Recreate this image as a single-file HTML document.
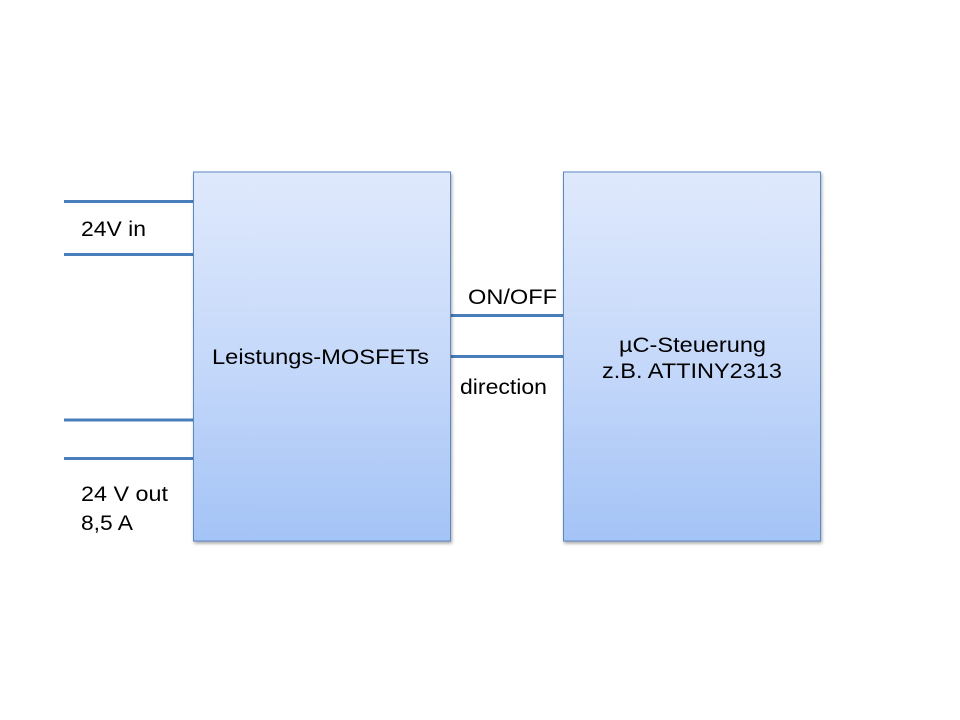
<!DOCTYPE html>
<html>
<head>
<meta charset="utf-8">
<style>
  html,body{margin:0;padding:0;background:#fff;}
  svg{display:block;}
  text{font-family:"Liberation Sans",Arial,sans-serif;font-size:21px;fill:#000;}
</style>
</head>
<body>
<svg width="960" height="720" viewBox="0 0 960 720" xmlns="http://www.w3.org/2000/svg">
  <defs>
    <linearGradient id="g" x1="0" y1="0" x2="0" y2="1">
      <stop offset="0" stop-color="#dfe9fc"/>
      <stop offset="0.5" stop-color="#c6d9fa"/>
      <stop offset="1" stop-color="#a4c3f6"/>
    </linearGradient>
    <filter id="sh" x="-5%" y="-5%" width="115%" height="115%">
      <feGaussianBlur in="SourceAlpha" stdDeviation="1.5"/>
      <feOffset dx="1" dy="2" result="b"/>
      <feComponentTransfer><feFuncA type="linear" slope="0.35"/></feComponentTransfer>
      <feMerge><feMergeNode/><feMergeNode in="SourceGraphic"/></feMerge>
    </filter>
  </defs>

  <g stroke="#4a7ebb" stroke-width="3">
    <line x1="64" y1="201.5" x2="193" y2="201.5"/>
    <line x1="64" y1="254.5" x2="193" y2="254.5"/>
    <line x1="64" y1="420" x2="193" y2="420"/>
    <line x1="64" y1="458.5" x2="193" y2="458.5"/>
    <line x1="451" y1="315.5" x2="563" y2="315.5"/>
    <line x1="451" y1="356.5" x2="563" y2="356.5"/>
  </g>

  <rect x="193.5" y="172" width="257" height="369" fill="url(#g)" stroke="#5b88c4" stroke-width="1" filter="url(#sh)"/>
  <rect x="563.5" y="172" width="257" height="369" fill="url(#g)" stroke="#5b88c4" stroke-width="1" filter="url(#sh)"/>

  <text x="81" y="236" textLength="65" lengthAdjust="spacingAndGlyphs">24V in</text>
  <text x="81" y="501" textLength="87" lengthAdjust="spacingAndGlyphs">24 V out</text>
  <text x="81" y="530" textLength="52" lengthAdjust="spacingAndGlyphs">8,5 A</text>
  <text x="212" y="364" textLength="217" lengthAdjust="spacingAndGlyphs">Leistungs-MOSFETs</text>
  <text x="468" y="304" textLength="89" lengthAdjust="spacingAndGlyphs">ON/OFF</text>
  <text x="460" y="394" textLength="87" lengthAdjust="spacingAndGlyphs">direction</text>
  <text x="619" y="352" textLength="147" lengthAdjust="spacingAndGlyphs">µC-Steuerung</text>
  <text x="602" y="378" textLength="180" lengthAdjust="spacingAndGlyphs">z.B. ATTINY2313</text>
</svg>
</body>
</html>
